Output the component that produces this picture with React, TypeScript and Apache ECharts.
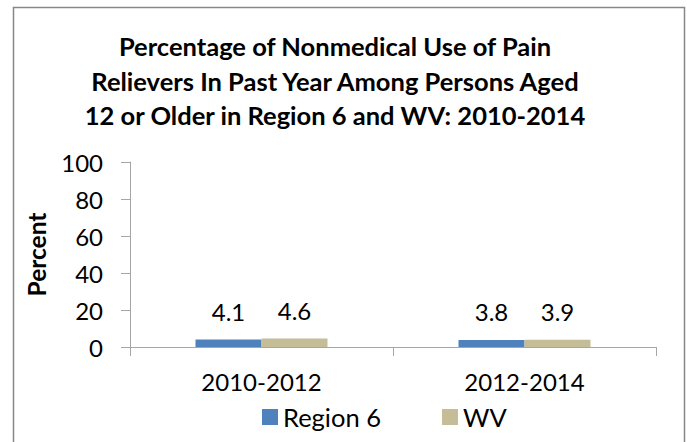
import React, { useEffect, useRef } from "react";
import * as echarts from "echarts";

const categories = ["2010-2012", "2012-2014"];
const region6 = [4.1, 3.8];
const wv = [4.6, 3.9];
const seriesNames = ["Region 6", "WV"];
const titleText =
  "Percentage of Nonmedical Use of Pain\nRelievers In Past Year Among Persons Aged\n12 or Older in Region 6 and WV: 2010-2014";

const FONT = "Lato, 'Open Sans', sans-serif";

export default function App() {
  const ref = useRef<HTMLDivElement>(null);
  useEffect(() => {
    if (!ref.current) return;
    const chart = echarts.init(ref.current, undefined, { renderer: "svg" });
    chart.setOption({
      animation: false,
      backgroundColor: "#ffffff",
      textStyle: { fontFamily: FONT },
      title: {
        text: titleText,
        left: 335,
        textAlign: "center",
        top: 29,
        padding: 0,
        textStyle: {
          fontFamily: FONT,
          fontWeight: "bold",
          fontSize: 25.5,
          lineHeight: 34.5,
          color: "#000",
        },
      },
      graphic: [
        {
          type: "rect",
          shape: { x: 13.5, y: 7.5, width: 671, height: 440 },
          style: { fill: "none", stroke: "#878787", lineWidth: 1.5 },
          silent: true,
        },
      ],
      legend: {
        data: seriesNames,
        top: 404,
        left: 262,
        padding: 0,
        itemWidth: 16,
        itemHeight: 16,
        itemGap: 61,
        icon: "rect",
        textStyle: { fontFamily: FONT, fontSize: 25.5, color: "#000" },
      },
      grid: { left: 130, right: 31, top: 162, bottom: 95 },
      xAxis: {
        type: "category",
        data: categories,
        axisLine: { lineStyle: { color: "#A6A6A6", width: 1 } },
        axisTick: { show: true, length: 9, lineStyle: { color: "#A6A6A6" } },
        axisLabel: { fontFamily: FONT, fontSize: 24, color: "#000", margin: 22 },
      },
      yAxis: {
        type: "value",
        min: 0,
        max: 100,
        interval: 20,
        name: "Percent",
        nameLocation: "middle",
        nameGap: 81,
        nameTextStyle: { fontFamily: FONT, fontSize: 24.5, fontWeight: "bold", color: "#000" },
        splitLine: { show: false },
        axisLine: { show: true, lineStyle: { color: "#A6A6A6", width: 1 } },
        axisTick: { show: true, length: 9, lineStyle: { color: "#A6A6A6" } },
        axisLabel: { fontFamily: FONT, fontSize: 24, color: "#000", margin: 27 },
      },
      series: [
        {
          name: seriesNames[0],
          type: "bar",
          data: region6,
          barWidth: 66,
          barGap: "0%",
          itemStyle: { color: "#4F81BD" },
          label: {
            show: true,
            position: "top",
            distance: 16,
            fontFamily: FONT,
            fontSize: 24,
            color: "#000",
          },
        },
        {
          name: seriesNames[1],
          type: "bar",
          data: wv,
          barWidth: 66,
          barGap: "0%",
          itemStyle: { color: "#C4BD97" },
          label: {
            show: true,
            position: "top",
            distance: 16,
            fontFamily: FONT,
            fontSize: 24,
            color: "#000",
          },
        },
      ],
    });
    return () => chart.dispose();
  }, []);
  return (
    <div
      ref={ref}
      style={{ position: "absolute", left: 0, top: 0, width: 687, height: 442 }}
    />
  );
}
